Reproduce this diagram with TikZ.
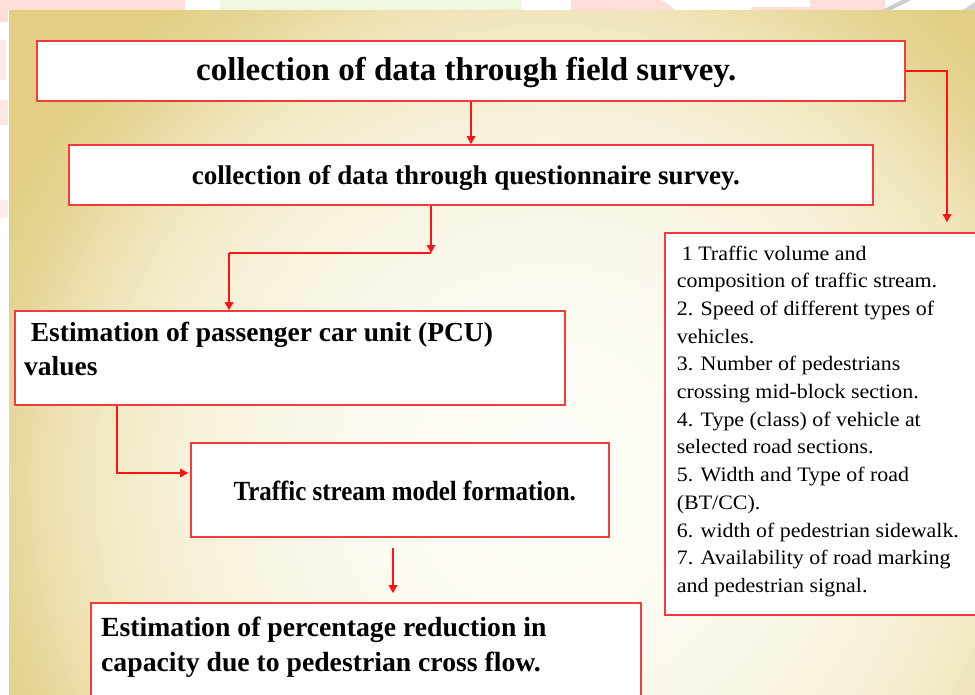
\documentclass[tikz,border=0pt]{standalone}
\usepackage{fontspec}
\setmainfont{Liberation Serif}
\newfontfamily\condfont{Liberation Serif}[FakeStretch=0.9]
\newfontfamily\listfont{Liberation Serif}[FakeStretch=1.07]
\usetikzlibrary{arrows.meta}
\definecolor{bgA}{RGB}{254,253,248}
\definecolor{bgB}{RGB}{252,250,240}
\definecolor{bgC}{RGB}{247,241,218}
\definecolor{bgD}{RGB}{240,229,185}
\definecolor{bgE}{RGB}{231,214,152}
\definecolor{bgF}{RGB}{226,207,132}
\definecolor{boxred}{RGB}{245,60,60}
\definecolor{linered}{RGB}{255,20,20}
\definecolor{pinkish}{RGB}{255,221,216}
\definecolor{greenish}{RGB}{238,248,224}
\tikzset{
  box/.style={draw=boxred, color=boxred, line width=1.6pt, fill=white, rectangle, inner sep=0pt},
  conn/.style={draw=linered, color=linered, line width=1.6pt},
  arr/.style={conn, -{Triangle[width=8.5pt,length=8pt]}},
  txt/.style={anchor=base west, inner sep=0pt, text=black},
}
\begin{document}
\begin{tikzpicture}[x=1pt,y=1pt]
\useasboundingbox (0,0) rectangle (975,-694);
\begin{scope}
\clip (0,0) rectangle (975,-694);
\fill[white] (0,0) rectangle (975,-694);
% top strip decorations
\fill[pinkish] (0,0) rectangle (185,-10);
\fill[greenish] (220,0) rectangle (522,-10);
\fill[pinkish] (571,0) -- (660,0) -- (668,-4) -- (675,-10) -- (571,-10) -- cycle;
\fill[pinkish] (751,-7) rectangle (810,-10);
\fill[pinkish] (810,0) rectangle (885,-10);
\fill[gray!40] (882,-10) -- (891,-10) -- (911,0) -- (902,0) -- cycle;
\fill[gray!35] (963,-10) -- (975,-10) -- (975,-2) -- cycle;
\fill[pinkish] (0,-10) rectangle (8,-22);
\fill[pinkish!70] (0,-40) rectangle (6,-80);
\fill[pinkish!70] (0,-100) rectangle (8,-125);
\fill[pinkish!60] (0,-200) rectangle (8,-218);
% background gradient (concentric rings)
\begin{scope}
\clip (9,-10) rectangle (975,-694);
\fill[bgF] (9,-10) rectangle (975,-694);
\foreach \ra/\rb/\ca/\cb in {550/610/bgE/bgF, 480/550/bgD/bgE, 370/480/bgC/bgD, 200/370/bgB/bgC, 0/200/bgA/bgB} {
  \pgfmathtruncatemacro\nn{(\rb-\ra)/5}
  \foreach \k in {0,...,\nn} {
    \pgfmathsetmacro\rr{\rb-5*\k}
    \pgfmathtruncatemacro\pct{(\rr-\ra)/(\rb-\ra)*100}
    \fill[\cb!\pct!\ca] (550,-480) circle (\rr);
  }
}
\end{scope}

% boxes
\node[box, minimum width=868pt, minimum height=60pt] (b1) at (471,-71) {};
\node[box, minimum width=804pt, minimum height=60pt] (b2) at (471,-175) {};
\node[box, minimum width=550pt, minimum height=94pt] (b3) at (290,-358) {};
\node[box, minimum width=418pt, minimum height=94pt] (b4) at (400,-490) {};
\node[box, minimum width=550pt, minimum height=120pt] (b5) at (366,-663) {};
\node[box, minimum width=320pt, minimum height=382pt] (b6) at (825,-424) {};

% texts
\node[txt, font=\fontsize{33}{40}\selectfont\bfseries] (t1) at (196,-80.7) {collection of data through field survey.};
\node[txt, font=\fontsize{27}{33}\selectfont\bfseries] (t2) at (191.7,-184.3) {collection of data through questionnaire survey.};
\node[txt, font=\fontsize{27.5}{33}\selectfont\bfseries] (t3a) at (30.7,-341.7) {Estimation of passenger car unit (PCU)};
\node[txt, font=\fontsize{27.5}{33}\selectfont\bfseries] (t3b) at (24,-375.7) {values};
\node[txt, font=\condfont\fontsize{27.7}{33}\selectfont\bfseries] (t4) at (233.3,-500) {Traffic stream model formation.};
\node[txt, font=\fontsize{27.7}{33}\selectfont\bfseries] (t5a) at (101,-636.7) {Estimation of percentage reduction in};
\node[txt, font=\fontsize{27.7}{33}\selectfont\bfseries] (t5b) at (101,-671) {capacity due to pedestrian cross flow.};
\foreach \i/\xx/\s in {
  1/681.7/{1 Traffic volume and},
  2/676.7/{composition of traffic stream.},
  3/676.7/{2. Speed of different types of},
  4/676.7/{vehicles.},
  5/676.7/{3. Number of pedestrians},
  6/676.7/{crossing mid-block section.},
  7/676.7/{4. Type (class) of vehicle at},
  8/676.7/{selected road sections.},
  9/676.7/{5. Width and Type of road},
  10/676.7/{(BT/CC).},
  11/676.7/{6. width of pedestrian sidewalk.},
  12/676.7/{7. Availability of road marking},
  13/676.7/{and pedestrian signal.}}
  \node[txt, font=\listfont\fontsize{20.5}{27}\selectfont] (r\i) at (\xx,{-260-27.7*(\i-1)}) {\s};

% connectors
\coordinate (c1) at (947,-71);
\coordinate (c2) at (431,-253);
\coordinate (c3) at (229,-253);
\coordinate (c4) at (117,-473);
\coordinate (c5) at (393,-570);
\draw[arr] (b1.south) -- (b1.south |- b2.north);
\draw[arr, shorten >=10pt] (b1.east) -- (c1) -- (c1 |- b6.north);
\draw[arr] (b2.south -| c2) -- (c2);
\draw[conn] (c2) -- (c3);
\draw[arr] (c3) -- (c3 |- b3.north);
\draw[arr, shorten >=2pt] (b3.south -| c4) -- (c4) -- (b4.west |- c4);
\draw[arr, shorten <=10pt, shorten >=9pt] (b4.south -| c5) -- (b5.north -| c5);
\end{scope}
\end{tikzpicture}
\end{document}
